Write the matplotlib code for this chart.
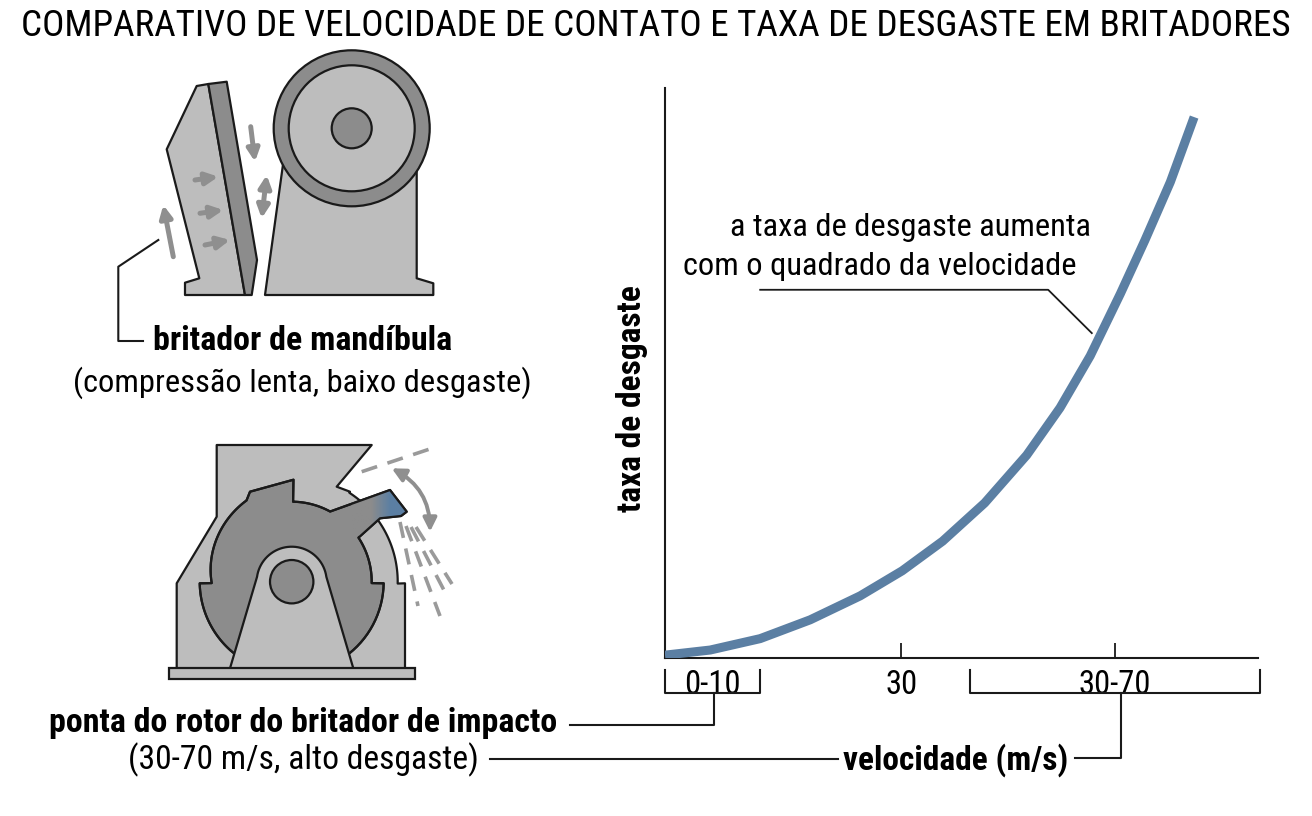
#!/usr/bin/env python3
"""Comparativo de velocidade de contato e taxa de desgaste em britadores."""

import numpy as np
import matplotlib
matplotlib.use('Agg')
import matplotlib.pyplot as plt
from matplotlib import font_manager
from matplotlib.patches import Polygon, Circle, Rectangle, FancyArrowPatch
from matplotlib.colors import LinearSegmentedColormap

# curve (velocity on an m/s scale, wear in arbitrary units 0-100)
velocity = [0.0, 5.7, 12.0, 18.3, 24.6, 29.9, 35.0, 40.3, 45.6, 49.8,
            53.6, 57.4, 60.5, 63.7, 66.7]
wear = [0.5, 1.4, 3.4, 6.7, 10.9, 15.3, 20.5, 27.2, 35.6, 43.9,
        53.0, 63.9, 73.3, 83.5, 94.9]

tick_pos = [29.8, 56.7]
tick_labels = ['30', '30-70']
range_pos = [6.0]
range_labels = ['0-10']
brackets = [(0.0, 12.0), (38.4, 75.0)]

TITLE = 'COMPARATIVO DE VELOCIDADE DE CONTATO E TAXA DE DESGASTE EM BRITADORES'

avail = {f.name for f in font_manager.fontManager.ttflist}
FONT = next((f for f in ['Roboto Condensed', 'Liberation Sans Narrow',
                         'Noto Sans Condensed', 'Open Sans Condensed']
             if f in avail), 'Liberation Sans')
plt.rcParams['font.family'] = [FONT, 'DejaVu Sans']

LIGHT = '#BDBDBD'
DARK = '#8C8C8C'
ARROW = '#8F8F8F'
BLUE = '#5B7FA3'
EDGE = '#1A1A1A'

W, H = 1312, 816
fig = plt.figure(figsize=(W / 100, H / 100), dpi=100)

# overlay in pixel coordinates for the drawings and leader lines
art = fig.add_axes([0, 0, 1, 1])
art.set_axis_off()


def arc(cx, cy, r, a0, a1, n=40):
    t = np.radians(np.linspace(a0, a1, n))
    return np.column_stack([cx + r * np.cos(t), cy - r * np.sin(t)])


def poly(pts, fc, z=2, lw=1.6):
    p = Polygon(pts, closed=True, fc=fc, ec=EDGE, lw=lw, joinstyle='round', zorder=z)
    art.add_patch(p)
    return p


def arrow(p0, p1, style='-|>', rad=0.0, lw=3.6, ms=18, color=ARROW):
    art.add_patch(FancyArrowPatch(p0, p1, arrowstyle=style, mutation_scale=ms,
                                  lw=lw, color=color, shrinkA=0, shrinkB=0,
                                  connectionstyle=f'arc3,rad={rad}', zorder=6))


# ---- jaw crusher ----
poly([(285, 150), (265, 295), (433.3, 295), (433.3, 283.3), (416.7, 278.3),
      (416.7, 150)], LIGHT)
art.add_patch(Circle((351.7, 128.3), 78, fc=DARK, ec=EDGE, lw=1.6, zorder=3))
art.add_patch(Circle((351.7, 128.3), 63, fc=LIGHT, ec=EDGE, lw=1.6, zorder=3))
art.add_patch(Circle((351.7, 128.3), 20, fc=DARK, ec=EDGE, lw=1.6, zorder=3))
poly([(196.7, 86), (208.3, 84), (245, 295), (185, 295), (185, 282.7),
      (199.3, 278.3), (166.7, 149.3)], LIGHT)
poly([(208.3, 84), (226.7, 81.7), (257, 260), (251.7, 295), (245, 295)], DARK)

arrow((250.7, 126.7), (255, 161.7))
arrow((266.7, 175), (261.7, 218.3), style='<|-|>')
arrow((195, 180), (218.3, 176.7))
arrow((200, 213.3), (223.3, 210))
arrow((205, 245), (230, 240))
arrow((173.3, 256.7), (163.3, 205))

art.plot([158.3, 118.3, 118.3, 143], [240, 266.7, 341, 341], color=EDGE, lw=1.5)
art.text(303, 341, 'britador de mandíbula', fontsize=24.5, fontweight='bold',
         ha='center', va='center')
art.text(302, 383, '(compressão lenta, baixo desgaste)', fontsize=23.4,
         ha='center', va='center')

# ---- impact crusher ----
cx, cy = 291.7, 581.7
housing = np.vstack([[(216.7, 445), (371.7, 445), (336.7, 486.7), (350, 491.7)],
                     arc(cx, cy, 106, 57, -1),
                     [(405, 583.3), (405, 668.3), (176.7, 668.3), (176.7, 583.3),
                      (216.7, 516.7)]])
poly(housing, LIGHT)

hammer = [(360, 536.7), (380, 518.3), (401, 516), (406.7, 511.7), (390, 490), (330, 511.7)]
rotor = np.vstack([arc(cx, cy, 92, -132, -1),
                   arc(cx, cy, 80, -1, 33.4),
                   hammer[1:5],
                   arc(cx, cy, 80, 61.3, 89),
                   [(cx + 102 * np.cos(np.radians(89)), cy - 102 * np.sin(np.radians(89))),
                    (250, 491.7), (246.7, 500)],
                   arc(cx, cy, np.linspace(93, 80, 40), 119, 181),
                   arc(cx, cy, 92, 181, 228)])
poly(rotor, DARK, z=3)

tip = Polygon(hammer, closed=True, fc='none', ec='none', transform=art.transData)
grad = LinearSegmentedColormap.from_list('tip', [DARK, DARK, BLUE, BLUE])
im = art.imshow(np.linspace(0, 1, 100)[None, :], cmap=grad, aspect='auto',
                extent=[352, 410, 540, 486], zorder=3.5, interpolation='bilinear')
im.set_clip_path(tip)
art.add_patch(Polygon(rotor, closed=True, fc='none', ec=EDGE, lw=1.6,
                      joinstyle='round', zorder=3.6))

pedestal = np.vstack([[(230, 668.3)], arc(cx, cy, 35, 172, 8), [(353.3, 668.3)]])
poly(pedestal, LIGHT, z=4)
art.add_patch(Circle((cx, cy), 21.7, fc=DARK, ec=EDGE, lw=1.6, zorder=5))
art.add_patch(Rectangle((169.3, 668.3), 245.7, 11, fc=LIGHT, ec=EDGE, lw=1.6, zorder=5))

dash = dict(color='#9A9A9A', lw=2.6, dashes=(4.5, 3), zorder=6)
art.plot([361.7, 436.7], [471.7, 446.7], **dash)
for (xs, ys), (xe, ye) in [((400, 522), (418, 606)), ((406, 526), (440, 616)),
                           ((411, 527), (447, 596)), ((416, 527), (452, 584))]:
    art.plot([xs, xe], [ys, ye], **dash)
arrow((391.7, 468.3), (430, 531.7), style='<|-|>', rad=-0.3, lw=2.8, ms=20)

art.text(303, 723, 'ponta do rotor do britador de impacto', fontsize=24.4,
         fontweight='bold', ha='center', va='center')
art.text(303, 760, '(30-70 m/s, alto desgaste)', fontsize=24.2, ha='center', va='center')

# leader lines under the chart
art.plot([570, 713.5, 713.5], [725, 725, 692.7], color=EDGE, lw=1.5)
art.plot([490, 838], [759, 759], color=EDGE, lw=1.5)
art.plot([1075, 1120.8, 1120.8], [758.3, 758.3, 692.7], color=EDGE, lw=1.5)
art.text(956, 760, 'velocidade (m/s)', fontsize=24, fontweight='bold',
         ha='center', va='center')

art.set_xlim(0, W)
art.set_ylim(H, 0)

fig.text(0.5, 1 - 26 / H, TITLE, fontsize=26.8, ha='center', va='center')

# ---- chart ----
x0, x1, y0, y1 = 665, 1258, 88, 658
ax = fig.add_axes([x0 / W, 1 - y1 / H, (x1 - x0) / W, (y1 - y0) / H])
ax.patch.set_visible(False)
ax.plot(velocity, wear, color=BLUE, lw=6.5, solid_capstyle='butt',
        solid_joinstyle='round', zorder=3)
ax.set_xlim(0, (x1 - x0) / 7.933)
ax.set_ylim(0, 100)
for s in ['top', 'right']:
    ax.spines[s].set_visible(False)
for s in ['left', 'bottom']:
    ax.spines[s].set_linewidth(1.5)
    ax.spines[s].set_color(EDGE)
ax.set_yticks([])
ax.set_xticks(tick_pos)
ax.set_xticklabels(tick_labels, fontsize=23.5)
ax.set_xticks(range_pos, minor=True)
ax.set_xticklabels(range_labels, minor=True, fontsize=23.5)
ax.tick_params(axis='x', which='major', direction='in', length=11, width=1.3,
               color=EDGE, pad=8)
ax.tick_params(axis='x', which='minor', length=0, pad=8)

trans = ax.get_xaxis_transform()
for a, b in brackets:
    ax.plot([a, a, b, b], [-0.021, -0.061, -0.061, -0.021], color=EDGE, lw=1.5,
            transform=trans, clip_on=False)

ax.text(-0.0557, 0.456, 'taxa de desgaste', transform=ax.transAxes, rotation=90,
        fontsize=24, fontweight='bold', ha='center', va='center')

ax.text(30.9, 75.6, 'a taxa de desgaste aumenta', fontsize=23.4, ha='center', va='center')
ax.text(27.1, 68.6, 'com o quadrado da velocidade', fontsize=23.4, ha='center', va='center')
ax.plot([12.0, 48.3, 53.8], [64.6, 64.6, 57.0], color=EDGE, lw=1.3)

fig.savefig('out.png', dpi=100)
